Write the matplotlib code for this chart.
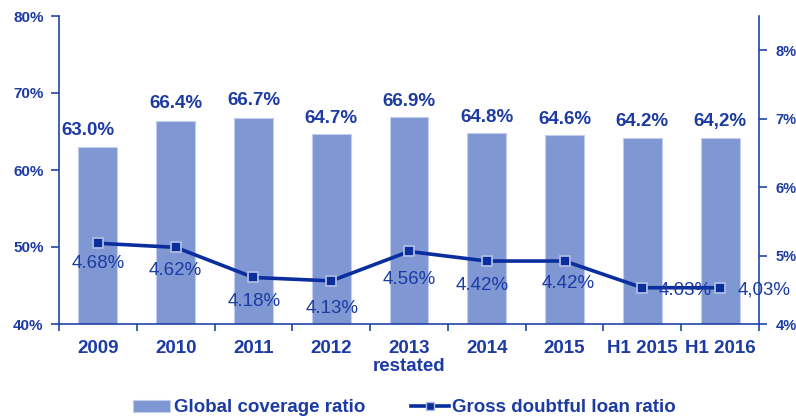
import matplotlib
matplotlib.use("Agg")
import matplotlib.pyplot as plt
from matplotlib.patches import Patch
from matplotlib.lines import Line2D

# Data
categories = ["2009", "2010", "2011", "2012", "2013\nrestated", "2014", "2015", "H1 2015", "H1 2016"]
coverage = [63.0, 66.4, 66.7, 64.7, 66.9, 64.8, 64.6, 64.2, 64.2]
coverage_labels = ["63.0%", "66.4%", "66.7%", "64.7%", "66.9%", "64.8%", "64.6%", "64.2%", "64,2%"]
doubtful = [4.68, 4.62, 4.18, 4.13, 4.56, 4.42, 4.42, 4.03, 4.03]
doubtful_labels = ["4.68%", "4.62%", "4.18%", "4.13%", "4.56%", "4.42%", "4.42%", "4.03%", "4,03%"]
left_ticks = [40, 50, 60, 70, 80]
right_ticks = [3.5, 4.5, 5.5, 6.5, 7.5]
right_tick_labels = ["4%", "5%", "6%", "7%", "8%"]

# Styling
BAR = "#7f97d3"
BAR_EDGE = "#c3cdee"
LINE = "#0b2e9e"
TEXT = "#1c3ba3"
SPINE = "#2344a8"
plt.rcParams["font.family"] = ["Liberation Sans", "DejaVu Sans"]

# label offsets in pixels (dx, dy)
bar_label_offsets = [(-10, 12), (0, 13), (0, 13), (0, 11), (0, 11), (0, 11), (0, 11), (0, 12), (0, 12)]
line_label_offsets = [(0, -25), (0, -28), (1, -29), (1, -32), (0, -33), (-5, -29), (4, -27), (43, -7), (44, -7)]

fig = plt.figure(figsize=(7.96, 4.17), dpi=100)
ax = fig.add_axes([59 / 796, 93 / 417, 700 / 796, 308 / 417])
x = list(range(len(categories)))

ax.bar(x, coverage, width=0.5, color=BAR, edgecolor=BAR_EDGE, linewidth=0.8, zorder=2)
ax.set_xlim(-0.5, len(categories) - 0.5)
ax.set_ylim(40, 80)
ax.set_yticks(left_ticks)
ax.set_yticklabels([f"{t}%" for t in left_ticks])

for i, (v, lab) in enumerate(zip(coverage, coverage_labels)):
    dx, dy = bar_label_offsets[i]
    ax.annotate(lab, xy=(i, v), xytext=(dx, dy), textcoords="offset pixels",
                ha="center", va="baseline", fontsize=13.5, fontweight="bold", color=TEXT)

# category boundary ticks and centred labels
ax.set_xticks([i - 0.5 for i in range(len(categories) + 1)])
ax.set_xticklabels([])
ax.set_xticks(x, minor=True)
ax.set_xticklabels(categories, minor=True, fontsize=13.5, fontweight="bold", color=TEXT,
                   linespacing=1.05)
ax.tick_params(axis="x", which="major", length=5, width=1.2, color=SPINE, direction="out")
ax.tick_params(axis="x", which="minor", length=0, pad=11.5)
ax.tick_params(axis="y", length=6, width=1.2, color=SPINE, pad=5, labelsize=11, labelcolor=TEXT)
for t in ax.get_yticklabels():
    t.set_fontweight("bold")

for side in ["top", "right"]:
    ax.spines[side].set_visible(False)
for side in ["left", "bottom"]:
    ax.spines[side].set_color(SPINE)
    ax.spines[side].set_linewidth(1.2)

ax2 = ax.twinx()
ax2.plot(x, doubtful, color=LINE, linewidth=2.6, marker="s", markersize=7.5,
         markerfacecolor=LINE, markeredgecolor="#aebce4", markeredgewidth=1.3, zorder=3)
ax2.set_ylim(3.5, 8.0)
ax2.set_yticks(right_ticks)
ax2.set_yticklabels(right_tick_labels)
ax2.tick_params(axis="y", length=6, width=1.2, color=SPINE, pad=6, labelsize=10.5, labelcolor=TEXT)
for t in ax2.get_yticklabels():
    t.set_fontweight("bold")
for side in ["top", "left", "bottom"]:
    ax2.spines[side].set_visible(False)
ax2.spines["right"].set_color(SPINE)
ax2.spines["right"].set_linewidth(1.2)

for i, (v, lab) in enumerate(zip(doubtful, doubtful_labels)):
    dx, dy = line_label_offsets[i]
    ax2.annotate(lab, xy=(i, v), xytext=(dx, dy), textcoords="offset pixels",
                 ha="center", va="baseline", fontsize=13.5, color=TEXT, zorder=4)

handles = [
    Patch(facecolor=BAR, edgecolor=BAR_EDGE, linewidth=0.8),
    Line2D([0], [0], color=LINE, linewidth=2.6, marker="s", markersize=6,
           markerfacecolor=LINE, markeredgecolor="#aebce4", markeredgewidth=1.0),
]
leg = fig.legend(handles, ["Global coverage ratio", "Gross doubtful loan ratio"],
                 loc="center", bbox_to_anchor=(0.508, 0.022), ncol=2, frameon=False,
                 prop={"size": 13.5, "weight": "bold"}, handlelength=2.0,
                 handleheight=0.6, handletextpad=0.2, columnspacing=2.45)
for t in leg.get_texts():
    t.set_color(TEXT)

fig.savefig("out.png", dpi=100)
